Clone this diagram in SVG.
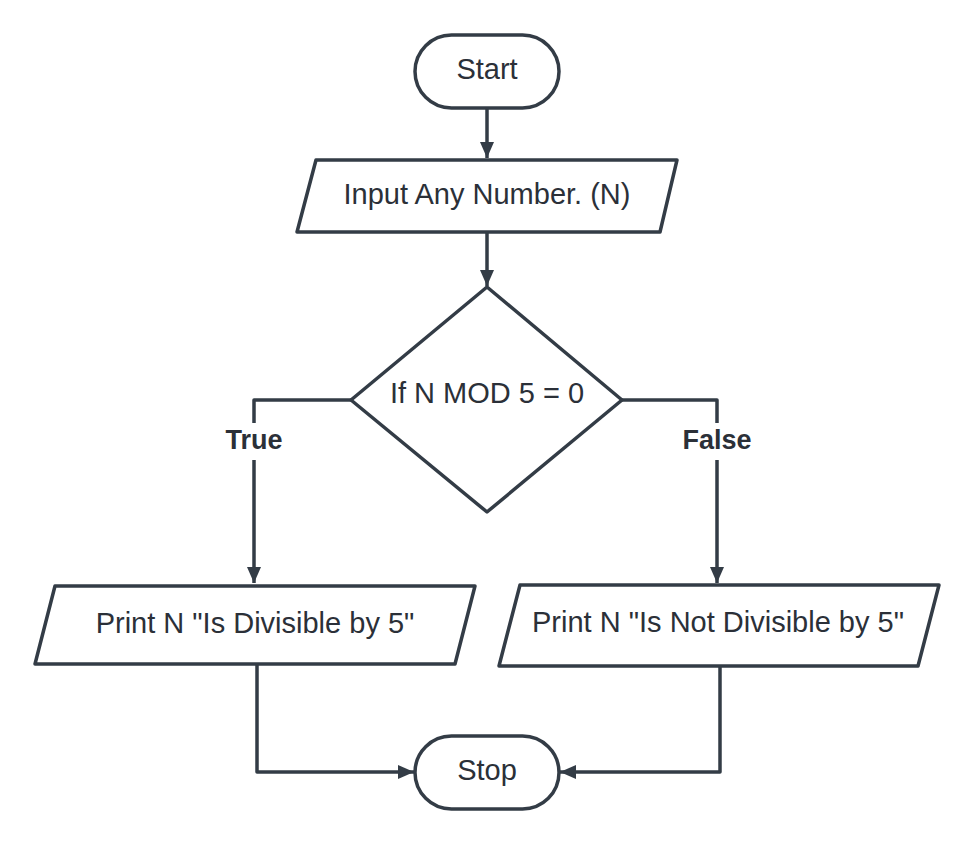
<svg xmlns="http://www.w3.org/2000/svg" width="975" height="844" viewBox="0 0 975 844">
<style>
.shape{fill:#ffffff;stroke:#333c46;stroke-width:3.5;stroke-linejoin:round}
.t{font-family:"Liberation Sans",Arial,sans-serif;font-size:29px;fill:#2b3038;text-anchor:middle;dominant-baseline:central}
.lbl{font-family:"Liberation Sans",Arial,sans-serif;font-size:27px;font-weight:bold;fill:#2b3038;text-anchor:middle;dominant-baseline:central}
.c{fill:none;stroke:#333c46;stroke-width:3.5;stroke-linejoin:round}
</style>
<defs>
<marker id="arr" viewBox="0 0 16 14" refX="16" refY="7" markerWidth="16" markerHeight="14" markerUnits="userSpaceOnUse" orient="auto">
<path d="M0,0 L16,7 L0,14 Z" fill="#333c46"/>
</marker>
</defs>
<rect width="975" height="844" fill="#ffffff"/>
<g id="connectors">
<path class="c" d="M487,108 V158" marker-end="url(#arr)"/>
<path class="c" d="M487,232 V286" marker-end="url(#arr)"/>
<path class="c" d="M351,400 H254 V423 M254,460 V583" marker-end="url(#arr)"/>
<path class="c" d="M622,400 H717 V423 M717,460 V583" marker-end="url(#arr)"/>
<path class="c" d="M257,664 V772 H414" marker-end="url(#arr)"/>
<path class="c" d="M720,666 V772 H560" marker-end="url(#arr)"/>
<text class="lbl" x="254" y="440">True</text>
<text class="lbl" x="717" y="440">False</text>
</g>
<g id="start">
<rect class="shape" x="415" y="35" width="144" height="73" rx="36.5"/>
<text class="t" x="487" y="69">Start</text>
</g>
<g id="input">
<polygon class="shape" points="316,160 677,160 660,232 297,232"/>
<text class="t" x="487" y="194">Input Any Number. (N)</text>
</g>
<g id="decision">
<polygon class="shape" points="487,287 622,400 487,512 351,400"/>
<text class="t" x="487" y="393">If N MOD 5 = 0</text>
</g>
<g id="print-true">
<polygon class="shape" points="55,586 475,586 455,664 35,664"/>
<text class="t" x="255" y="623">Print N "Is Divisible by 5"</text>
</g>
<g id="print-false">
<polygon class="shape" points="520,585 939,585 918,666 499,666"/>
<text class="t" x="718" y="622">Print N "Is Not Divisible by 5"</text>
</g>
<g id="stop">
<rect class="shape" x="415" y="736" width="144" height="73" rx="36.5"/>
<text class="t" x="487" y="770">Stop</text>
</g>
</svg>
